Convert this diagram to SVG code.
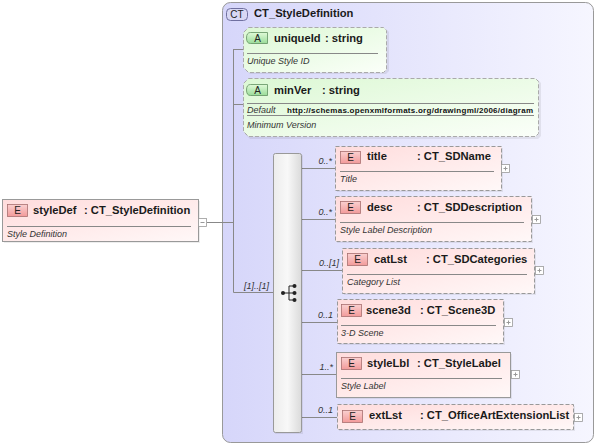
<svg xmlns="http://www.w3.org/2000/svg" width="596" height="446" viewBox="0 0 596 446">
<defs>
<linearGradient id="gCT" x1="0" y1="0" x2="1" y2="0">
<stop offset="0" stop-color="#d6d6fa"/><stop offset="1" stop-color="#f6f6ff"/>
</linearGradient>
<linearGradient id="gEl" x1="0" y1="0" x2="1" y2="1">
<stop offset="0" stop-color="#ffdcdc"/><stop offset="1" stop-color="#fff8f8"/>
</linearGradient>
<linearGradient id="gAt" x1="0" y1="0" x2="1" y2="1">
<stop offset="0" stop-color="#dcf8d4"/><stop offset="1" stop-color="#fbfff9"/>
</linearGradient>
<linearGradient id="gEb" x1="0" y1="0" x2="0" y2="1">
<stop offset="0" stop-color="#fad0d0"/><stop offset="1" stop-color="#f29a9a"/>
</linearGradient>
<linearGradient id="gAb" x1="0" y1="0" x2="0" y2="1">
<stop offset="0" stop-color="#e0fad8"/><stop offset="1" stop-color="#9adc9a"/>
</linearGradient>
<linearGradient id="gSeq" x1="0" y1="0" x2="1" y2="0">
<stop offset="0" stop-color="#ececec"/><stop offset="0.5" stop-color="#f8f8f8"/><stop offset="1" stop-color="#dadada"/>
</linearGradient>
</defs>
<style>
.nm{font-family:"Liberation Sans",Arial,sans-serif;font-size:11.2px;font-weight:bold;fill:#1a1a1a}
.ds{font-family:"Liberation Sans",Arial,sans-serif;font-size:9px;font-style:italic;fill:#333}
.cd{font-family:"Liberation Sans",Arial,sans-serif;font-size:9px;font-style:italic;fill:#333;text-anchor:end}
.bt{font-family:"Liberation Sans",Arial,sans-serif;font-size:10px;fill:#222;text-anchor:middle}
.url{font-family:"Liberation Sans",Arial,sans-serif;font-size:8px;font-weight:bold;fill:#111}
.el{fill:url(#gEl);stroke:#999;stroke-width:1}
.dash{stroke-dasharray:4,2}
.at{fill:url(#gAt);stroke:#aaa;stroke-width:1;stroke-dasharray:4,2}
.eb{fill:url(#gEb);stroke:#a87070;stroke-width:0.8}
.ab{fill:url(#gAb);stroke:#609060;stroke-width:0.8}
.sep{stroke:#888;stroke-width:1}
.sh{fill:#000;opacity:0.07}
.ln{stroke:#888;stroke-width:1;fill:none}
.btn{fill:#fff;stroke:#999;stroke-width:0.8}
.bs{stroke:#999;stroke-width:1}
</style>

<g id="CT_StyleDefinition">
<rect x="222.5" y="2.5" width="371" height="440" rx="8" fill="url(#gCT)" stroke="#999"/>
<rect x="226.5" y="8.5" width="21" height="12" rx="4" fill="#d8d8f4" stroke="#7070a0"/>
<text class="bt" x="237" y="18">CT</text>
<text class="nm" x="254" y="17">CT_StyleDefinition</text>
</g>

<g id="connectors">
<line class="ln" x1="207" y1="222.5" x2="233.5" y2="222.5"/>
<line class="ln" x1="233.5" y1="49" x2="233.5" y2="292.5"/>
<line class="ln" x1="233.5" y1="49.5" x2="243" y2="49.5"/>
<line class="ln" x1="233.5" y1="104.5" x2="243" y2="104.5"/>
<line class="ln" x1="233.5" y1="292.5" x2="273" y2="292.5"/>
<text class="cd" x="269" y="289">[1]..[1]</text>
<line class="ln" x1="301" y1="168.5" x2="335" y2="168.5"/>
<line class="ln" x1="301" y1="219.5" x2="335" y2="219.5"/>
<line class="ln" x1="301" y1="270.5" x2="342" y2="270.5"/>
<line class="ln" x1="301" y1="322.5" x2="337" y2="322.5"/>
<line class="ln" x1="301" y1="374.5" x2="336" y2="374.5"/>
<line class="ln" x1="301" y1="417.5" x2="337" y2="417.5"/>
<text class="cd" x="332" y="164">0..*</text>
<text class="cd" x="332" y="215">0..*</text>
<text class="cd" x="339" y="266">0..[1]</text>
<text class="cd" x="333" y="318">0..1</text>
<text class="cd" x="333" y="370">1..*</text>
<text class="cd" x="333" y="413">0..1</text>
</g>

<g id="styleDef">
<rect class="sh" x="4" y="201" width="196" height="42"/>
<rect class="el" x="2.5" y="199.5" width="196" height="42"/>
<rect class="eb" x="7.5" y="204.5" width="20" height="12"/>
<text class="bt" x="17.5" y="214">E</text>
<text class="nm" x="33" y="214">styleDef</text>
<text class="nm" x="84" y="214">: CT_StyleDefinition</text>
<line class="sep" x1="7" y1="226.5" x2="191" y2="226.5"/>
<text class="ds" x="7" y="237">Style Definition</text>
<rect class="btn" x="198.5" y="218.5" width="8" height="8"/>
<line class="bs" x1="200.5" y1="222.5" x2="204.5" y2="222.5"/>
</g>

<g id="uniqueId">
<path class="sh" d="M250,29 H386 L389,32 V71 L386,74 H250 L245,69 V34 Z"/>
<path class="at" d="M248.5,27.5 H383.5 L386.5,30.5 V69.5 L383.5,72.5 H248.5 L243.5,67.5 V32.5 Z"/>
<path class="ab" d="M250.5,32.5 H267.5 V43.5 H250.5 Q246.5,43.5 246.5,38 Q246.5,32.5 250.5,32.5 Z"/>
<text class="bt" x="257.5" y="42">A</text>
<text class="nm" x="274" y="42">uniqueId</text>
<text class="nm" x="325" y="42">: string</text>
<line class="sep" x1="247" y1="53.5" x2="378" y2="53.5"/>
<text class="ds" x="247" y="64">Unique Style ID</text>
</g>

<g id="minVer">
<path class="sh" d="M250,80 H538 L541,83 V136 L538,139 H250 L245,134 V85 Z"/>
<path class="at" d="M248.5,78.5 H535.5 L538.5,81.5 V133.5 L535.5,136.5 H248.5 L243.5,131.5 V83.5 Z"/>
<path class="ab" d="M250.5,84.5 H267.5 V95.5 H250.5 Q246.5,95.5 246.5,90 Q246.5,84.5 250.5,84.5 Z"/>
<text class="bt" x="257.5" y="94">A</text>
<text class="nm" x="274" y="94">minVer</text>
<text class="nm" x="322" y="94">: string</text>
<line class="sep" x1="247" y1="103.5" x2="534" y2="103.5"/>
<text class="ds" x="247" y="113">Default</text>
<text class="url" x="287" y="113" textLength="246">http://schemas.openxmlformats.org/drawingml/2006/diagram</text>
<line class="sep" x1="247" y1="115.5" x2="534" y2="115.5"/>
<text class="ds" x="247" y="128">Minimum Version</text>
</g>

<g id="sequence">
<rect class="sh" x="275" y="155" width="28" height="279"/>
<rect x="273.5" y="153.5" width="28" height="279" rx="2" fill="url(#gSeq)" stroke="#999"/>
<line x1="283" y1="293" x2="289" y2="293" stroke="#222"/>
<line x1="289" y1="286" x2="289" y2="300" stroke="#222"/>
<line x1="289" y1="286" x2="294" y2="286" stroke="#222"/>
<line x1="289" y1="293" x2="294" y2="293" stroke="#222"/>
<line x1="289" y1="300" x2="294" y2="300" stroke="#222"/>
<circle cx="283" cy="293" r="2" fill="#222"/>
<circle cx="294.5" cy="286" r="2" fill="#222"/>
<circle cx="294.5" cy="293" r="2" fill="#222"/>
<circle cx="294.5" cy="300" r="2" fill="#222"/>
</g>

<g id="title">
<rect class="sh" x="337" y="148" width="166" height="44"/>
<rect class="el dash" x="335.5" y="146.5" width="166" height="44"/>
<rect class="eb" x="340.5" y="151.5" width="20" height="12"/>
<text class="bt" x="350.5" y="161">E</text>
<text class="nm" x="367" y="160">title</text>
<text class="nm" x="417" y="160">: CT_SDName</text>
<line class="sep" x1="340" y1="171.5" x2="494" y2="171.5"/>
<text class="ds" x="340" y="182">Title</text>
<rect class="btn" x="501.5" y="164.5" width="8" height="8"/>
<line class="bs" x1="503.5" y1="168.5" x2="507.5" y2="168.5"/><line class="bs" x1="505.5" y1="166.5" x2="505.5" y2="170.5"/>
</g>

<g id="desc">
<rect class="sh" x="337" y="198" width="196" height="45"/>
<rect class="el dash" x="335.5" y="196.5" width="196" height="45"/>
<rect class="eb" x="340.5" y="201.5" width="20" height="12"/>
<text class="bt" x="350.5" y="211">E</text>
<text class="nm" x="367" y="211">desc</text>
<text class="nm" x="417" y="211">: CT_SDDescription</text>
<line class="sep" x1="340" y1="222.5" x2="524" y2="222.5"/>
<text class="ds" x="340" y="233">Style Label Description</text>
<rect class="btn" x="532.5" y="215.5" width="8" height="8"/>
<line class="bs" x1="534.5" y1="219.5" x2="538.5" y2="219.5"/><line class="bs" x1="536.5" y1="217.5" x2="536.5" y2="221.5"/>
</g>

<g id="catLst">
<rect class="sh" x="344" y="250" width="192" height="45"/>
<rect class="el dash" x="342.5" y="248.5" width="192" height="45"/>
<rect class="eb" x="347.5" y="253.5" width="20" height="12"/>
<text class="bt" x="357.5" y="263">E</text>
<text class="nm" x="374" y="263">catLst</text>
<text class="nm" x="426" y="263">: CT_SDCategories</text>
<line class="sep" x1="347" y1="274.5" x2="527" y2="274.5"/>
<text class="ds" x="347" y="285">Category List</text>
<rect class="btn" x="535.5" y="266.5" width="8" height="8"/>
<line class="bs" x1="537.5" y1="270.5" x2="541.5" y2="270.5"/><line class="bs" x1="539.5" y1="268.5" x2="539.5" y2="272.5"/>
</g>

<g id="scene3d">
<rect class="sh" x="339" y="301" width="166" height="44"/>
<rect class="el dash" x="337.5" y="299.5" width="166" height="44"/>
<rect class="eb" x="341.5" y="304.5" width="20" height="12"/>
<text class="bt" x="351.5" y="314">E</text>
<text class="nm" x="366" y="314">scene3d</text>
<text class="nm" x="420" y="314">: CT_Scene3D</text>
<line class="sep" x1="341" y1="325.5" x2="496" y2="325.5"/>
<text class="ds" x="341" y="336">3-D Scene</text>
<rect class="btn" x="504.5" y="318.5" width="8" height="8"/>
<line class="bs" x1="506.5" y1="322.5" x2="510.5" y2="322.5"/><line class="bs" x1="508.5" y1="320.5" x2="508.5" y2="324.5"/>
</g>

<g id="styleLbl">
<rect class="sh" x="338" y="354" width="174" height="45"/>
<rect class="el" x="336.5" y="352.5" width="174" height="45"/>
<rect class="eb" x="341.5" y="357.5" width="20" height="12"/>
<text class="bt" x="351.5" y="367">E</text>
<text class="nm" x="367" y="367">styleLbl</text>
<text class="nm" x="417" y="367">: CT_StyleLabel</text>
<line class="sep" x1="341" y1="378.5" x2="502" y2="378.5"/>
<text class="ds" x="341" y="389">Style Label</text>
<rect class="btn" x="511.5" y="370.5" width="8" height="8"/>
<line class="bs" x1="513.5" y1="374.5" x2="517.5" y2="374.5"/><line class="bs" x1="515.5" y1="372.5" x2="515.5" y2="376.5"/>
</g>

<g id="extLst">
<rect class="sh" x="339" y="406" width="236" height="25"/>
<rect class="el dash" x="337.5" y="404.5" width="236" height="25"/>
<rect class="eb" x="342.5" y="410.5" width="20" height="12"/>
<text class="bt" x="352.5" y="420">E</text>
<text class="nm" x="369" y="419">extLst</text>
<text class="nm" x="420" y="419">: CT_OfficeArtExtensionList</text>
<rect class="btn" x="574.5" y="413.5" width="8" height="8"/>
<line class="bs" x1="576.5" y1="417.5" x2="580.5" y2="417.5"/><line class="bs" x1="578.5" y1="415.5" x2="578.5" y2="419.5"/>
</g>
</svg>
